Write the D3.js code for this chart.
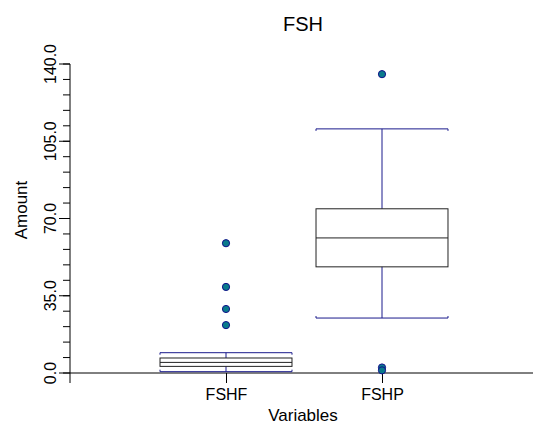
<!DOCTYPE html>
<html>
<head>
<meta charset="utf-8">
<script src="https://cdn.jsdelivr.net/npm/d3@7"></script>
<style>
  html, body { margin: 0; padding: 0; background: #fff; }
  svg { display: block; font-family: "Liberation Sans", Arial, sans-serif; }
</style>
</head>
<body>
<svg id="chart" width="533" height="427"></svg>
<script>
// Box-plot summaries for each variable
const categories   = ["FSHF", "FSHP"];
const whiskerLow   = [0.6, 24.9];
const q1           = [3.0, 48.1];
const median       = [4.8, 61.2];
const q3           = [6.8, 74.4];
const whiskerHigh  = [9.2, 110.6];
const outliers     = [[21.7, 29.0, 39.0, 58.8], [135.4, 2.5, 1.2]];
const yTickValues  = [0, 35, 70, 105, 140];
const yMinorValues = d3.range(0, 141, 7);

const svg = d3.select("#chart");

const plotLeft = 70, plotRight = 538, plotTop = 64, plotBottom = 373;

const x = d3.scalePoint().domain(categories).range([plotLeft, plotRight]).padding(1);
const y = d3.scaleLinear().domain([0, 140]).range([plotBottom, plotTop]);

const boxW = x.step() * 0.846;
const navy = "#1a1a8c";

// Title and axis titles
svg.append("text").attr("x", 303).attr("y", 31).attr("text-anchor", "middle")
  .style("font-size", "20px").text("FSH");
svg.append("text").attr("x", 303).attr("y", 421).attr("text-anchor", "middle")
  .style("font-size", "17px").text("Variables");
svg.append("text").attr("transform", "translate(27,210) rotate(-90)").attr("text-anchor", "middle")
  .style("font-size", "17px").text("Amount");

// Y axis: minor ticks, then major ticks with rotated labels
const gy = svg.append("g").attr("transform", `translate(${plotLeft},0)`);
gy.append("line").attr("x1", 0).attr("x2", 0).attr("y1", y(140)).attr("y2", plotBottom + 10)
  .attr("stroke", "#000");
gy.selectAll(".minor").data(yMinorValues).join("line")
  .attr("x1", -7).attr("x2", 0).attr("y1", d => y(d)).attr("y2", d => y(d))
  .attr("stroke", "#000");
gy.selectAll(".major").data(yTickValues).join("line")
  .attr("x1", -11).attr("x2", 0).attr("y1", d => y(d)).attr("y2", d => y(d))
  .attr("stroke", "#000");
gy.selectAll(".lbl").data(yTickValues).join("text")
  .attr("transform", d => `translate(-14,${y(d)}) rotate(-90)`)
  .attr("text-anchor", "middle")
  .style("font-size", "16px")
  .text(d => d3.format(".1f")(d));

// X axis
svg.append("line").attr("x1", plotLeft).attr("x2", 533).attr("y1", plotBottom).attr("y2", plotBottom)
  .attr("stroke", "#000");
const gx = svg.append("g").attr("transform", `translate(0,${plotBottom})`)
  .call(d3.axisBottom(x).tickSize(10).tickPadding(6).tickSizeOuter(0));
gx.select(".domain").remove();
gx.selectAll("text").style("font-size", "16px").style("font-family", "Liberation Sans, Arial, sans-serif")
  .attr("fill", "#000");

// Boxes
const data = categories.map((c, i) => ({
  c, lo: whiskerLow[i], q1: q1[i], med: median[i], q3: q3[i], hi: whiskerHigh[i], out: outliers[i]
}));

const g = svg.selectAll(".box").data(data).join("g").attr("class", "box");

// whisker stems
g.append("line").attr("x1", d => x(d.c)).attr("x2", d => x(d.c))
  .attr("y1", d => y(d.hi)).attr("y2", d => y(d.q3)).attr("stroke", navy);
g.append("line").attr("x1", d => x(d.c)).attr("x2", d => x(d.c))
  .attr("y1", d => y(d.q1)).attr("y2", d => y(d.lo)).attr("stroke", navy);

// whisker caps as brackets
g.append("path").attr("fill", "none").attr("stroke", navy)
  .attr("d", d => {
    const x0 = x(d.c) - boxW / 2, x1 = x(d.c) + boxW / 2, yy = y(d.hi);
    return `M${x0},${yy + 2}V${yy}H${x1}V${yy + 2}`;
  });
g.append("path").attr("fill", "none").attr("stroke", navy)
  .attr("d", d => {
    const x0 = x(d.c) - boxW / 2, x1 = x(d.c) + boxW / 2, yy = y(d.lo);
    return `M${x0},${yy - 2}V${yy}H${x1}V${yy - 2}`;
  });

// box body
g.append("rect")
  .attr("x", d => x(d.c) - boxW / 2).attr("width", boxW)
  .attr("y", d => y(d.q3)).attr("height", d => y(d.q1) - y(d.q3))
  .attr("fill", "none").attr("stroke", "#222");
g.append("line").attr("x1", d => x(d.c) - boxW / 2).attr("x2", d => x(d.c) + boxW / 2)
  .attr("y1", d => y(d.med)).attr("y2", d => y(d.med)).attr("stroke", "#222");

// outliers
g.selectAll("circle").data(d => d.out.map(v => ({ c: d.c, v }))).join("circle")
  .attr("cx", d => x(d.c)).attr("cy", d => y(d.v)).attr("r", 3.6)
  .attr("fill", "#0a7a8c").attr("stroke", "#10108a").attr("stroke-width", 1);
</script>
</body>
</html>
